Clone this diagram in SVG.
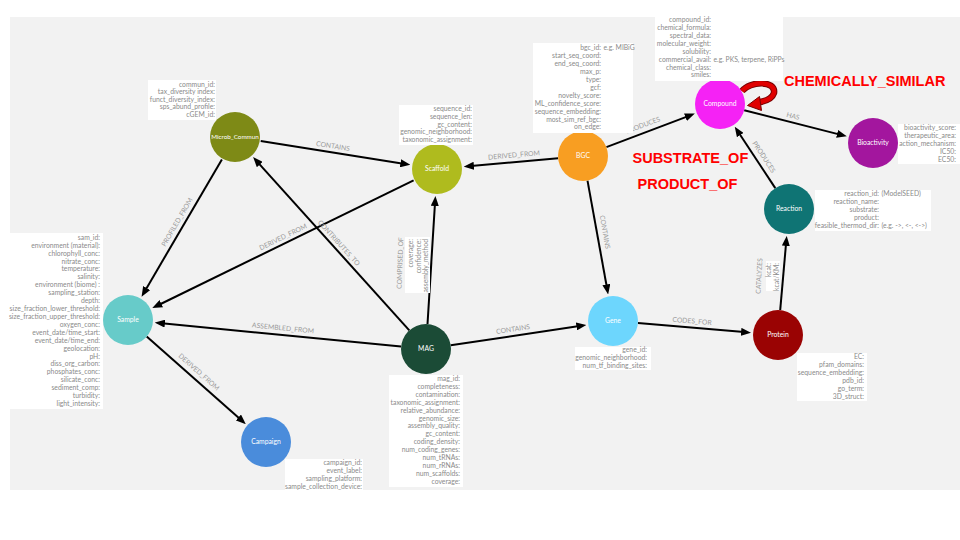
<svg xmlns="http://www.w3.org/2000/svg" width="960" height="540" viewBox="0 0 960 540">
<defs>
<marker id="arr" markerUnits="userSpaceOnUse" markerWidth="10" markerHeight="8" refX="3" refY="4" orient="auto"><path d="M0,0 L10,4 L0,8 z" fill="#000"/></marker>
<style>
.e{stroke:#000;stroke-width:2;fill:none;marker-end:url(#arr)}
.el{font-family:Lato,"Open Sans",sans-serif;font-size:6.8px;fill:#9a9a9a;text-anchor:middle}
.n{stroke:none}
.nl{font-family:Lato,"Open Sans",sans-serif;font-size:6.8px;fill:#fff;text-anchor:middle}
.box{fill:#fff}
.p{font-family:Lato,"Open Sans",sans-serif;font-size:6.8px;fill:#8a8a8a;text-anchor:end}
.v{font-family:Lato,"Open Sans",sans-serif;font-size:6.8px;fill:#8a8a8a}
.red{font-family:"Liberation Sans",Arial,sans-serif;font-weight:bold;font-size:14.5px;fill:#ff0000}
</style>
</defs>
<rect x="0" y="0" width="960" height="540" fill="#fff"/>
<rect x="10" y="17" width="950" height="473" fill="#f2f2f2"/>

<g id="connectors">
<line class="e" x1="260.7" y1="141.1" x2="403.4" y2="163.7"/>
<line class="e" x1="221.9" y1="159.4" x2="145.1" y2="290.7"/>
<line class="e" x1="413.6" y1="180.4" x2="158.6" y2="305.0"/>
<line class="e" x1="409.3" y1="330.4" x2="257.8" y2="162.3"/>
<line class="e" x1="427.5" y1="324" x2="435.0" y2="203.0"/>
<line class="e" x1="401.1" y1="346.6" x2="161.9" y2="323.3"/>
<line class="e" x1="450.7" y1="345.3" x2="579.4" y2="326.0"/>
<line class="e" x1="558.1" y1="158.2" x2="470.9" y2="166.0"/>
<line class="e" x1="606.4" y1="147.1" x2="688.3" y2="116.1"/>
<line class="e" x1="587.5" y1="180.6" x2="606.9" y2="287.5"/>
<line class="e" x1="744.2" y1="110.2" x2="840.0" y2="134.6"/>
<line class="e" x1="775.3" y1="188.1" x2="738.6" y2="132.5"/>
<line class="e" x1="780.2" y1="310.1" x2="786.1" y2="242.9"/>
<line class="e" x1="637.9" y1="323.1" x2="744.1" y2="332.1"/>
<line class="e" x1="146.7" y1="336.6" x2="240.6" y2="419.5"/>

<text class="el" transform="translate(333,146) rotate(9)" y="2.4">CONTAINS</text>
<text class="el" transform="translate(177,222) rotate(-59.7)" y="2.4">PROFILED_FROM</text>
<text class="el" transform="translate(283,237) rotate(-26)" y="2.4">DERIVED_FROM</text>
<text class="el" transform="translate(339,243) rotate(48)" y="2.4">CONTRIBUTES_TO</text>
<text class="el" transform="translate(400,263) rotate(-88)" y="2.4">COMPRISED_OF</text>
<rect class="box" x="405" y="237" width="25" height="56"/>
<text class="p" transform="translate(411,239) rotate(-90)" y="2.4">coverage:</text>
<text class="p" transform="translate(419,239) rotate(-90)" y="2.4">confidence:</text>
<text class="p" transform="translate(426,239) rotate(-90)" y="2.4">assembly_method</text>
<text class="el" transform="translate(283,328) rotate(5.6)" y="2.4">ASSEMBLED_FROM</text>
<text class="el" transform="translate(513,329) rotate(-8.5)" y="2.4">CONTAINS</text>
<text class="el" transform="translate(514,155) rotate(-5)" y="2.4">DERIVED_FROM</text>
<text class="el" transform="translate(643,125) rotate(-20.8)" y="2.4">PRODUCES</text>
<text class="el" transform="translate(605,232) rotate(80)" y="2.4">CONTAINS</text>
<text class="el" transform="translate(793,116) rotate(14.3)" y="2.4">HAS</text>
<text class="el" transform="translate(764,157) rotate(56.7)" y="2.4">PRODUCES</text>
<text class="el" transform="translate(759,276) rotate(-87)" y="2.4">CATALYZES</text>
<rect class="box" x="766" y="261" width="14" height="30"/>
<text class="p" transform="translate(769,263) rotate(-90)" y="2.4">kcat:</text>
<text class="p" transform="translate(777,263) rotate(-90)" y="2.4">kcat/KM:</text>
<text class="el" transform="translate(692,321) rotate(4.8)" y="2.4">CODES_FOR</text>
<text class="el" transform="translate(199,372) rotate(41.5)" y="2.4">DERIVED_FROM</text>

<g id="self-loop">
<path d="M742,91 C750,81 776,80 774,93 C772,99 766,101 760,102" fill="none" stroke="#7a0000" stroke-width="6.5"/>
<path d="M742,91 C750,81 776,80 774,93 C772,99 766,101 760,102" fill="none" stroke="#e00000" stroke-width="4.5"/>
<path d="M747.5,105.5 L759.5,96.5 L761.5,110.5 z" fill="#e00000" stroke="#7a0000" stroke-width="1"/>
</g>
</g>

<g id="red-labels">
<text class="red" x="784" y="86">CHEMICALLY_SIMILAR</text>
<text class="red" x="632.5" y="163">SUBSTRATE_OF</text>
<text class="red" x="637.5" y="189">PRODUCT_OF</text>
</g>

<g id="node-microb-commun">
<circle class="n" cx="235" cy="137" r="25" fill="#7e8a16"/>
<text class="nl" x="235" y="139.4" style="font-size:6.3px">Microb_Commun</text>
<rect class="box" x="148" y="80" width="68" height="40"/>
<text class="p" x="215" y="86.5">commun_id:</text>
<text class="p" x="215" y="94.1">tax_diversity index:</text>
<text class="p" x="215" y="101.7">funct_diversity_index:</text>
<text class="p" x="215" y="109.3">sps_abund_profile:</text>
<text class="p" x="215" y="116.9">cGEM_id:</text>
</g>

<g id="node-scaffold">
<circle class="n" cx="437" cy="169" r="25" fill="#afbb1e"/>
<text class="nl" x="437" y="171.4">Scaffold</text>
<rect class="box" x="399" y="105" width="74" height="40"/>
<text class="p" x="472" y="110.7">sequence_id:</text>
<text class="p" x="472" y="118.6">sequence_len:</text>
<text class="p" x="472" y="126.5">gc_content:</text>
<text class="p" x="472" y="134.4">genomic_neighborhood:</text>
<text class="p" x="472" y="142.3">taxonomic_assignment:</text>
</g>

<g id="node-bgc">
<circle class="n" cx="583" cy="156" r="25" fill="#f89e22"/>
<text class="nl" x="583" y="158.4">BGC</text>
<rect class="box" x="533" y="43" width="100" height="90"/>
<text class="p" x="601" y="50.1">bgc_id:</text><text class="v" x="603.5" y="50.1">e.g. MIBiG</text>
<text class="p" x="601" y="58.0">start_seq_coord:</text>
<text class="p" x="601" y="66.0">end_seq_coord:</text>
<text class="p" x="601" y="73.9">max_p:</text>
<text class="p" x="601" y="81.8">type:</text>
<text class="p" x="601" y="89.8">gcf:</text>
<text class="p" x="601" y="97.7">novelty_score:</text>
<text class="p" x="601" y="105.6">ML_confidence_score:</text>
<text class="p" x="601" y="113.5">sequence_embedding:</text>
<text class="p" x="601" y="121.5">most_sim_ref_bgc:</text>
<text class="p" x="601" y="129.4">on_edge:</text>
</g>

<g id="node-compound">
<circle class="n" cx="720" cy="104" r="25" fill="#f522f5"/>
<text class="nl" x="720" y="106.4">Compound</text>
<rect class="box" x="655" y="13" width="128" height="68"/>
<text class="p" x="711" y="22.4">compound_id:</text>
<text class="p" x="711" y="30.3">chemical_formula:</text>
<text class="p" x="711" y="38.1">spectral_data:</text>
<text class="p" x="711" y="46.0">molecular_weight:</text>
<text class="p" x="711" y="53.9">solubility:</text>
<text class="p" x="711" y="61.7">commercial_avail:</text><text class="v" x="713.5" y="61.7">e.g. PKS, terpene, RiPPs</text>
<text class="p" x="711" y="69.6">chemical_class:</text>
<text class="p" x="711" y="77.4">smiles:</text>
</g>

<g id="node-bioactivity">
<circle class="n" cx="873" cy="143" r="25" fill="#a3169e"/>
<text class="nl" x="873" y="145.4">Bioactivity</text>
<rect class="box" x="898" y="124" width="62" height="40"/>
<text class="p" x="956" y="129.7">bioactivity_score:</text>
<text class="p" x="956" y="137.7">therapeutic_area:</text>
<text class="p" x="956" y="145.7">action_mechanism:</text>
<text class="p" x="956" y="153.7">IC50:</text>
<text class="p" x="956" y="161.7">EC50:</text>
</g>

<g id="node-reaction">
<circle class="n" cx="789" cy="209" r="25" fill="#0f7474"/>
<text class="nl" x="789" y="211.4">Reaction</text>
<rect class="box" x="815" y="190" width="116" height="41"/>
<text class="p" x="879" y="196.4">reaction_id:</text><text class="v" x="881.5" y="196.4">(ModelSEED)</text>
<text class="p" x="879" y="204.3">reaction_name:</text>
<text class="p" x="879" y="212.2">substrate:</text>
<text class="p" x="879" y="220.1">product:</text>
<text class="p" x="879" y="228">feasible_thermod_dir:</text><text class="v" x="881.5" y="228">(e.g. -&gt;, &lt;-, &lt;-&gt;)</text>
</g>

<g id="node-sample">
<circle class="n" cx="128" cy="320" r="25" fill="#67cbc9"/>
<text class="nl" x="128" y="322.4">Sample</text>
<rect class="box" x="9" y="233" width="94" height="176"/>
<text class="p" x="100" y="239.7">sam_id:</text>
<text class="p" x="100" y="247.6">environment (material):</text>
<text class="p" x="100" y="255.5">chlorophyll_conc:</text>
<text class="p" x="100" y="263.5">nitrate_conc:</text>
<text class="p" x="100" y="271.4">temperature:</text>
<text class="p" x="100" y="279.3">salinity:</text>
<text class="p" x="100" y="287.2">environment (biome) :</text>
<text class="p" x="100" y="295.1">sampling_station:</text>
<text class="p" x="100" y="303.1">depth:</text>
<text class="p" x="100" y="311.0">size_fraction_lower_threshold:</text>
<text class="p" x="100" y="318.9">size_fraction_upper_threshold:</text>
<text class="p" x="100" y="326.8">oxygen_conc:</text>
<text class="p" x="100" y="334.7">event_date/time_start:</text>
<text class="p" x="100" y="342.7">event_date/time_end:</text>
<text class="p" x="100" y="350.6">geolocation:</text>
<text class="p" x="100" y="358.5">pH:</text>
<text class="p" x="100" y="366.4">diss_org_carbon:</text>
<text class="p" x="100" y="374.3">phosphates_conc:</text>
<text class="p" x="100" y="382.3">silicate_conc:</text>
<text class="p" x="100" y="390.2">sediment_comp:</text>
<text class="p" x="100" y="398.1">turbidity:</text>
<text class="p" x="100" y="406.0">light_intensity:</text>
</g>

<g id="node-mag">
<circle class="n" cx="426" cy="349" r="25" fill="#1b4b36"/>
<text class="nl" x="426" y="351.4">MAG</text>
<rect class="box" x="389" y="375" width="74" height="112"/>
<text class="p" x="460" y="380.7">mag_id:</text>
<text class="p" x="460" y="388.7">completeness:</text>
<text class="p" x="460" y="396.6">contamination:</text>
<text class="p" x="460" y="404.6">taxonomic_assignment:</text>
<text class="p" x="460" y="412.5">relative_abundance:</text>
<text class="p" x="460" y="420.5">genomic_size:</text>
<text class="p" x="460" y="428.4">assembly_quality:</text>
<text class="p" x="460" y="436.4">gc_content:</text>
<text class="p" x="460" y="444.3">coding_density:</text>
<text class="p" x="460" y="452.3">num_coding_genes:</text>
<text class="p" x="460" y="460.2">num_tRNAs:</text>
<text class="p" x="460" y="468.2">num_rRNAs:</text>
<text class="p" x="460" y="476.1">num_scaffolds:</text>
<text class="p" x="460" y="484.1">coverage:</text>
</g>

<g id="node-gene">
<circle class="n" cx="613" cy="321" r="25" fill="#6dd6fd"/>
<text class="nl" x="613" y="323.4">Gene</text>
<rect class="box" x="575" y="347" width="76" height="23"/>
<text class="p" x="647" y="352.4">gene_id:</text>
<text class="p" x="647" y="360.2">genomic_neighborhood:</text>
<text class="p" x="647" y="368">num_tf_binding_sites:</text>
</g>

<g id="node-protein">
<circle class="n" cx="778" cy="335" r="25" fill="#9a0303"/>
<text class="nl" x="778" y="337.4">Protein</text>
<rect class="box" x="797" y="353" width="70" height="48"/>
<text class="p" x="864" y="359.1">EC:</text>
<text class="p" x="864" y="367.0">pfam_domains:</text>
<text class="p" x="864" y="374.9">sequence_embedding:</text>
<text class="p" x="864" y="382.8">pdb_id:</text>
<text class="p" x="864" y="390.7">go_term:</text>
<text class="p" x="864" y="398.6">3D_struct:</text>
</g>

<g id="node-campaign">
<circle class="n" cx="266" cy="442" r="25" fill="#4a8cdb"/>
<text class="nl" x="266" y="444.4">Campaign</text>
<rect class="box" x="285" y="459" width="78" height="31"/>
<text class="p" x="362" y="465.1">campaign_id:</text>
<text class="p" x="362" y="473.1">event_label:</text>
<text class="p" x="362" y="481.1">sampling_platform:</text>
<text class="p" x="362" y="489.1">sample_collection_device:</text>
</g>
</svg>
